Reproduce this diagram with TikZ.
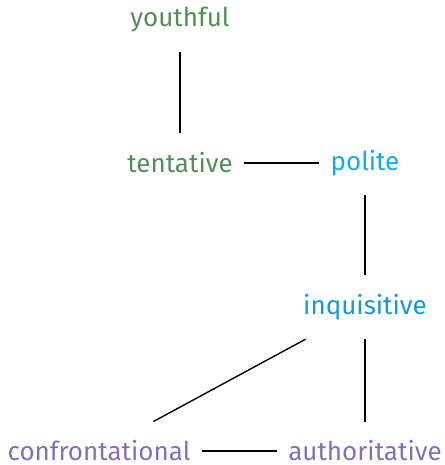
\documentclass[tikz,border=0pt]{standalone}
\usepackage{fontspec}
\setmainfont{Fira Sans}
\usetikzlibrary{positioning}
\definecolor{youngGreen}{RGB}{82,142,88}
\definecolor{politeBlue}{RGB}{20,170,235}
\definecolor{askBlue}{RGB}{20,155,210}
\definecolor{bossPurple}{RGB}{135,110,185}

\begin{document}
\begin{tikzpicture}[x=1pt,y=1pt,
  every node/.style={font=\fontsize{26}{30}\selectfont},
  trait/.style={inner xsep=11pt,inner ysep=19pt},
  link/.style={line width=1.4pt,black}]
  \useasboundingbox (0,0) rectangle (444,465);
  \node[trait,text=youngGreen] (young) at (180,445) {youthful};
  \node[trait,text=youngGreen] (tent) at (180,302) {tentative};
  \node[trait,text=politeBlue] (pol) at (365,302) {polite};
  \node[trait,text=askBlue] (inq) at (365,158) {inquisitive};
  \node[trait,text=bossPurple] (conf) at (99,14) {confrontational};
  \node[trait,text=bossPurple] (auth) at (365,14) {authoritative};
  \draw[link] (young) -- (tent);
  \draw[link] (tent) -- (pol);
  \draw[link] (pol) -- (inq);
  \draw[link] (inq) -- (auth);
  \draw[link] (inq) -- (conf);
  \draw[link] (conf) -- (auth);
\end{tikzpicture}
\end{document}
